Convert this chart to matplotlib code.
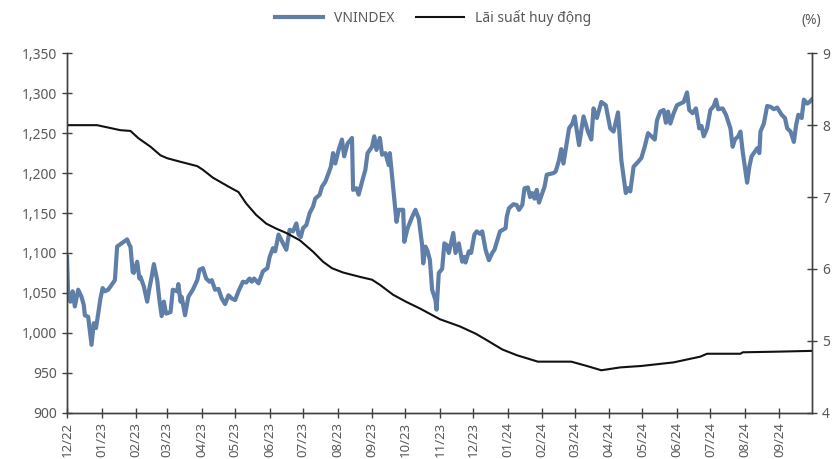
import datetime as dt
import numpy as np
import matplotlib
matplotlib.use("Agg")
import matplotlib.pyplot as plt
import matplotlib.dates as mdates

plt.rcParams['font.family'] = ['Noto Sans', 'DejaVu Sans']

# ============ Data ============================================
start = dt.date(2022, 12, 1)

# VNINDEX: day offset from 2022-12-01, index level
vn_days = [0, 1, 3, 5, 7, 10, 13, 15, 16, 19, 22, 24, 26, 28, 30, 32, 34, 37, 40, 43,
           45, 49, 54, 56, 57, 59, 60, 63, 65, 66, 69, 72, 74, 76, 78, 81, 83, 85, 87, 89,
           93, 95, 99, 100, 102, 103, 106, 109, 113, 117, 119, 122, 125, 128, 130, 133, 136, 139, 142, 145,
           148, 151, 154, 158, 161, 164, 166, 168, 172, 176, 180, 182, 185, 187, 190, 194, 197, 200, 203, 206,
           208, 210, 212, 215, 218, 221, 223, 227, 229, 232, 235, 237, 239, 241, 244, 247, 249, 252, 256, 257,
           260, 262, 265, 268, 270, 274, 276, 278, 281, 283, 286, 289, 290, 295, 296, 298, 302, 303, 306, 310,
           313, 316, 319, 320, 322, 324, 326, 328, 331, 332, 334, 337, 339, 341, 343, 347, 349, 352, 355, 357,
           358, 361, 363, 366, 368, 371, 373, 376, 379, 382, 384, 389, 394, 395, 397, 401, 404, 406, 409, 411,
           414, 416, 418, 420, 422, 424, 427, 429, 431, 437, 439, 442, 444, 446, 451, 454, 456, 460, 464, 468,
           471, 473, 476, 480, 484, 488, 491, 495, 498, 502, 504, 506, 509, 513, 516, 519, 522, 525, 528, 530,
           533, 536, 538, 540, 542, 545, 548, 554, 557, 559, 562, 565, 568, 570, 572, 575, 578, 581, 583, 585,
           589, 592, 596, 598, 600, 603, 605, 607, 611, 613, 615, 618, 620, 622, 623, 626, 629, 632, 635, 638,
           642, 645, 647, 650, 653, 655, 657, 660, 662, 665, 667, 669]
vnindex = [1095, 1045, 1039, 1052, 1033, 1054, 1045, 1035, 1022, 1020, 985, 1012, 1006, 1024, 1043, 1056, 1052, 1054, 1060, 1066,
           1108, 1112, 1117, 1110, 1108, 1076, 1075, 1089, 1068, 1070, 1058, 1039, 1056, 1070, 1086, 1066, 1041, 1021, 1039, 1024,
           1026, 1054, 1052, 1061, 1039, 1045, 1022, 1045, 1054, 1066, 1079, 1081, 1068, 1064, 1066, 1054, 1055, 1043, 1036, 1047,
           1043, 1041, 1052, 1064, 1063, 1068, 1064, 1068, 1062, 1077, 1081, 1095, 1106, 1102, 1123, 1112, 1104, 1129, 1127, 1137,
           1123, 1120, 1131, 1135, 1150, 1158, 1168, 1173, 1183, 1189, 1200, 1208, 1225, 1212, 1229, 1242, 1221, 1237, 1244, 1179,
           1181, 1173, 1189, 1204, 1225, 1233, 1246, 1229, 1244, 1223, 1225, 1210, 1225, 1154, 1139, 1154, 1154, 1114, 1131, 1145,
           1154, 1143, 1110, 1087, 1108, 1102, 1091, 1054, 1041, 1029, 1075, 1080, 1112, 1110, 1100, 1125, 1100, 1112, 1089, 1095,
           1088, 1102, 1100, 1123, 1127, 1124, 1127, 1104, 1091, 1100, 1104, 1127, 1131, 1145, 1156, 1161, 1160, 1154, 1160, 1181,
           1182, 1170, 1175, 1168, 1179, 1163, 1175, 1183, 1198, 1200, 1202, 1216, 1230, 1212, 1256, 1262, 1271, 1235, 1271, 1252,
           1242, 1281, 1269, 1289, 1285, 1256, 1252, 1276, 1216, 1175, 1181, 1177, 1208, 1214, 1219, 1233, 1250, 1246, 1242, 1266,
           1277, 1279, 1263, 1277, 1262, 1275, 1285, 1289, 1301, 1279, 1275, 1281, 1256, 1259, 1246, 1256, 1279, 1284, 1292, 1280,
           1281, 1273, 1256, 1233, 1242, 1246, 1252, 1227, 1188, 1208, 1221, 1227, 1231, 1225, 1252, 1262, 1284, 1283, 1280, 1282,
           1273, 1269, 1256, 1252, 1239, 1260, 1273, 1269, 1292, 1287, 1289, 1292]

# Deposit rate (%): day offset from 2022-12-01, rate
rate_days = [0, 27, 39, 48, 57, 64, 75, 84, 90, 102, 117, 122, 131, 140, 148, 154, 161, 170, 179, 188,
             197, 209, 221, 230, 238, 248, 263, 274, 281, 293, 305, 317, 335, 353, 367, 377, 391, 404, 423, 453,
             467, 480, 497, 516, 545, 569, 575, 605, 607, 641, 669]
rate = [8.00, 8.00, 7.96, 7.93, 7.92, 7.82, 7.70, 7.58, 7.54, 7.49, 7.43, 7.38, 7.27, 7.19, 7.12, 7.07, 6.91, 6.75, 6.63, 6.56,
        6.50, 6.40, 6.24, 6.10, 6.01, 5.95, 5.89, 5.85, 5.78, 5.64, 5.54, 5.45, 5.30, 5.20, 5.10, 5.01, 4.88, 4.80, 4.71, 4.71,
        4.65, 4.59, 4.63, 4.65, 4.70, 4.78, 4.82, 4.82, 4.84, 4.85, 4.86]

leglabel = ["VNINDEX", "Lãi suất huy động"]
# ==============================================================

vn_dates = [start + dt.timedelta(days=d) for d in vn_days]
rate_dates = [start + dt.timedelta(days=d) for d in rate_days]

fig = plt.figure(figsize=(8.38, 4.59), dpi=100)
ax1 = fig.add_axes([0.080, 0.1009, 0.8886, 0.783])
ax2 = ax1.twinx()

blue = '#5f7fa8'
grey = '#595959'
spine = '#404040'

l1, = ax1.plot(vn_dates, vnindex, color=blue, lw=3.0, solid_joinstyle='round')
l2, = ax2.plot(rate_dates, rate, color='#111111', lw=1.5)

ax1.set_xlim(start, dt.date(2024, 9, 30))
ax1.set_ylim(900, 1350)
ax1.set_yticks(np.arange(900, 1351, 50))
ax1.yaxis.set_major_formatter(matplotlib.ticker.FuncFormatter(lambda v, p: f"{int(v):,}"))
ax2.set_ylim(4, 9)
ax2.set_yticks(range(4, 10))

ax1.xaxis.set_major_locator(mdates.MonthLocator())
ax1.xaxis.set_major_formatter(mdates.DateFormatter('%m/%y'))
for lab in ax1.get_xticklabels():
    lab.set_rotation(90)

for ax in (ax1, ax2):
    ax.spines['top'].set_visible(False)
    for s in ('left', 'right', 'bottom'):
        ax.spines[s].set_color(spine)
        ax.spines[s].set_linewidth(1.0)
    ax.tick_params(direction='inout', length=7, width=1.0, color=spine,
                   labelcolor=grey, labelsize=10)
ax1.tick_params(axis='y', pad=4)
ax1.tick_params(axis='x', pad=3, labelsize=9.5)
ax2.tick_params(axis='y', pad=4)

ax2.text(1.0, 1.07, "(%)", transform=ax2.transAxes, ha='center', va='bottom',
         color=grey, fontsize=10)

fig.legend([l1, l2], leglabel, loc='upper center', bbox_to_anchor=(0.517, 1.005),
           ncol=2, frameon=False, fontsize=10, handlelength=3.4, columnspacing=1.6,
           labelcolor=grey)

plt.savefig("out.png", dpi=100)
